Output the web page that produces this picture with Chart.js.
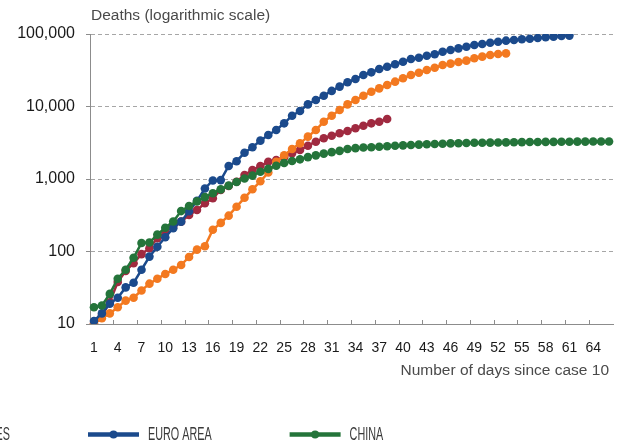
<!DOCTYPE html>
<html><head><meta charset="utf-8">
<script src="https://cdn.jsdelivr.net/npm/chart.js@4.4.0/dist/chart.umd.min.js"></script>
<style>html,body{margin:0;padding:0;background:#fff;overflow:hidden}#wrap{position:relative;width:619px;height:445px}</style>
</head><body><div id="wrap"><canvas id="c" width="619" height="445"></canvas></div>
<script>
const days = ['1','2','3','4','5','6','7','8','9','10','11','12','13','14','15','16','17','18','19','20',
  '21','22','23','24','25','26','27','28','29','30','31','32','33','34','35','36','37','38','39','40',
  '41','42','43','44','45','46','47','48','49','50','51','52','53','54','55','56','57','58','59','60',
  '61','62','63','64','65','66'];
const yTicks = [10, 100, 1000, 10000, 100000];
const seriesNames = ['UNITED KINGDOM', 'UNITED STATES', 'EURO AREA', 'CHINA'];
const ukDeaths = [10, 13, 20, 38, 54, 69, 92, 111, 152, 187, 220, 258, 318, 373, 462, 542, 705, 800, 918, 1135,
  1330, 1510, 1730, 1830, 2000, 2260, 2510, 2880, 3270, 3640, 3950, 4270, 4590, 5000, 5430, 5860, 6170, 6730];
const usDeaths = [10, 12, 14, 17, 21, 23, 29, 36, 42, 49, 56, 65, 84, 106, 118, 200, 248, 312, 415, 550,
  721, 930, 1230, 1733, 2120, 2590, 3100, 3840, 4740, 6170, 7470, 8950, 10700, 12300, 14100, 16000, 17800, 19800, 22000, 24500,
  27200, 29200, 31900, 34300, 37300, 39000, 41000, 42900, 46200, 48700, 51300, 53000, 54000];
const euroDeaths = [11, 14, 19, 23, 32, 37, 56, 85, 116, 157, 209, 258, 360, 500, 740, 955, 965, 1511, 1760, 2307,
  2735, 3380, 4050, 4740, 5860, 7470, 8670, 10700, 12300, 14100, 16400, 18800, 21600, 23900, 27200, 29600, 32900, 35400, 38200, 41500,
  45200, 47100, 50200, 52500, 57000, 60100, 63400, 66800, 70500, 72700, 75900, 78300, 80900, 82700, 84500, 86100, 88100, 90000, 91900, 93800, 95000];
const chinaDeaths = [17, 18, 26, 42, 56, 82, 131, 133, 171, 213, 259, 361, 425, 491, 563, 636, 719, 811, 908, 1016,
  1113, 1259, 1380, 1523, 1665, 1770, 1868, 2004, 2118, 2236, 2345, 2442, 2592, 2663, 2715, 2744, 2788, 2835, 2870, 2912,
  2943, 2981, 3012, 3042, 3070, 3097, 3119, 3136, 3158, 3169, 3176, 3189, 3199, 3213, 3226, 3237, 3245, 3248, 3255, 3261,
  3270, 3277, 3281, 3287, 3292, 3295];
const Y_TITLE = 'Deaths (logarithmic scale)';
const X_TITLE = 'Number of days since case 10';

const FONT = '"Liberation Sans", Arial, Helvetica, sans-serif';
const RED = '#a02a40', ORANGE = '#f37920', BLUE = '#1b4a8c', GREEN = '#24743a';
const AXIS = '#8c8c8c';

const overlay = {
  id: 'overlay',
  afterDraw(chart) {
    const ctx = chart.ctx, ca = chart.chartArea;
    ctx.save();
    ctx.fillStyle = '#4a4a4a';
    ctx.font = '15.5px ' + FONT;
    ctx.textBaseline = 'alphabetic';
    ctx.textAlign = 'left';
    ctx.fillText(Y_TITLE, ca.left + 1, 19.5);
    ctx.textAlign = 'right';
    ctx.fillText(X_TITLE, ca.right - 4, 375);
    // legend
    const LY = 434.5, LINE = 51, GAP = 9, SEP = 78, SX = 0.6;
    ctx.font = '18px ' + FONT;
    const ds = chart.data.datasets;
    const widths = ds.map(d => LINE + GAP + ctx.measureText(d.label).width * SX + SEP);
    let x = 88 - widths[0] - widths[1];
    ds.forEach((d, i) => {
      ctx.strokeStyle = d.borderColor; ctx.lineWidth = 4.3; ctx.lineCap = 'butt';
      ctx.beginPath(); ctx.moveTo(x, LY); ctx.lineTo(x + LINE, LY); ctx.stroke();
      ctx.fillStyle = d.borderColor;
      ctx.beginPath(); ctx.arc(x + LINE / 2, LY, 4, 0, 2 * Math.PI); ctx.fill();
      ctx.save();
      ctx.translate(x + LINE + GAP, 440);
      ctx.scale(SX, 1);
      ctx.fillStyle = '#3a3a3a';
      ctx.textAlign = 'left'; ctx.textBaseline = 'alphabetic';
      ctx.fillText(d.label, 0, 0);
      ctx.restore();
      x += widths[i];
    });
    ctx.restore();
  }
};

const mk = (i, data, color, order) => ({
  label: seriesNames[i], data, borderColor: color, backgroundColor: color,
  pointBackgroundColor: color, pointBorderWidth: 0, order
});

new Chart(document.getElementById('c'), {
  type: 'line',
  data: {
    labels: days,
    datasets: [
      mk(0, ukDeaths, RED, 4),
      mk(1, usDeaths, ORANGE, 3),
      mk(2, euroDeaths, BLUE, 2),
      mk(3, chinaDeaths, GREEN, 1)
    ]
  },
  options: {
    responsive: false, animation: false, devicePixelRatio: 1,
    layout: { padding: { top: 34, right: 6, left: 0, bottom: 0 } },
    elements: {
      line: { borderWidth: 2.5, tension: 0, fill: false },
      point: { radius: 4.3, hoverRadius: 4.3, borderWidth: 0 }
    },
    plugins: { legend: { display: false }, tooltip: { enabled: false } },
    events: [],
    scales: {
      x: {
        type: 'category', offset: true,
        grid: {
          offset: true, drawOnChartArea: false, drawTicks: true, tickLength: -4,
          color: 'transparent', tickWidth: 1,
          tickColor: c => (c.index !== undefined && c.index % 3 === 0) ? AXIS : 'transparent'
        },
        border: { display: true, color: AXIS, width: 1 },
        ticks: {
          autoSkip: false, maxRotation: 0, minRotation: 0, padding: 19.6,
          color: '#1a1a1a', font: { family: FONT, size: 14 },
          callback: (v, i) => (i % 3 === 0 ? days[i] : '')
        },
        afterFit: s => { s.height = 121; s.paddingLeft = 0; s.paddingRight = 0; }
      },
      y: {
        type: 'logarithmic', min: 10, max: 100000,
        afterBuildTicks: s => { s.ticks = yTicks.map(v => ({ value: v })); },
        grid: { color: '#a6a6a6', lineWidth: 1, drawTicks: true, tickLength: 4, tickColor: AXIS, tickBorderDash: [] },
        border: { display: true, color: AXIS, width: 1, dash: [4, 3] },
        ticks: {
          padding: 11, color: '#1a1a1a', font: { family: FONT, size: 16 },
          callback: v => Number(v).toLocaleString('en-US')
        },
        afterFit: s => { s.width = 90; }
      }
    }
  },
  plugins: [overlay]
});
</script>
</body></html>
